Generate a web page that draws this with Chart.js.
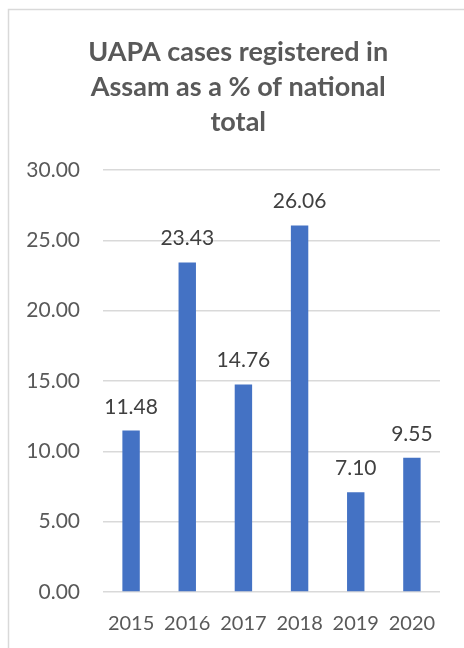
<!DOCTYPE html>
<html>
<head>
<meta charset="utf-8">
<script src="https://cdn.jsdelivr.net/npm/chart.js@4"></script>
<style>
  html, body { margin: 0; padding: 0; background: #fff; }
  #wrap { width: 464px; height: 648px; }
</style>
</head>
<body>
<div id="wrap"><canvas id="uapaChart" width="464" height="648"></canvas></div>
<script>
const years = ["2015", "2016", "2017", "2018", "2019", "2020"];
const assamShare = [11.48, 23.43, 14.76, 26.06, 7.10, 9.55];
const titleLines = ["UAPA cases registered in", "Assam as a % of national", "total"];

const FONT = "Lato, 'Open Sans', sans-serif";
const FRAME = { left: 8.5, top: 9.5, right: 468 };

// light frame round the chart (open on the right and bottom) and the title centred in it
const chartFrame = {
    id: "chartFrame",
    beforeDraw(chart) {
        const { ctx } = chart;
        ctx.save();
        ctx.fillStyle = "#fff";
        ctx.fillRect(0, 0, chart.width, chart.height);
        ctx.strokeStyle = "#d9d9d9";
        ctx.lineWidth = 1.5;
        ctx.strokeRect(FRAME.left, FRAME.top, FRAME.right - FRAME.left, chart.height + 20);

        ctx.font = "bold 27px " + FONT;
        ctx.fillStyle = "#595959";
        ctx.textAlign = "center";
        ctx.textBaseline = "middle";
        const cx = (FRAME.left + FRAME.right) / 2;
        titleLines.forEach((line, i) => ctx.fillText(line, cx, 52 + i * 35));
        ctx.restore();
    }
};

// value printed above each bar
const barValues = {
    id: "barValues",
    afterDatasetsDraw(chart) {
        const { ctx } = chart;
        const meta = chart.getDatasetMeta(0);
        ctx.save();
        ctx.font = "21px " + FONT;
        ctx.fillStyle = "#404040";
        ctx.textAlign = "center";
        ctx.textBaseline = "alphabetic";
        meta.data.forEach((bar, i) => {
            ctx.fillText(assamShare[i].toFixed(2), bar.x, bar.y - 17);
        });
        ctx.restore();
    }
};

const chart = new Chart(document.getElementById("uapaChart"), {
    type: "bar",
    data: {
        labels: years,
        datasets: [{
            data: assamShare,
            backgroundColor: "#4472c4",
            barPercentage: 0.62,
            categoryPercentage: 0.5
        }]
    },
    options: {
        responsive: false,
        animation: false,
        layout: { padding: { left: 10, right: 24, top: 170, bottom: 0 } },
        plugins: {
            legend: { display: false },
            tooltip: { enabled: false },
            title: { display: false }
        },
        scales: {
            x: {
                grid: { display: false, drawTicks: false },
                border: { display: false },
                ticks: { color: "#595959", font: { family: FONT, size: 20 }, padding: 20 },
                afterFit(scale) { scale.height = 56; }
            },
            y: {
                min: 0,
                max: 30,
                grid: { color: "#d9d9d9", lineWidth: 1.5, drawTicks: false },
                border: { display: false },
                ticks: {
                    stepSize: 5,
                    color: "#595959",
                    font: { family: FONT, size: 21 },
                    padding: 23,
                    callback: v => v.toFixed(2)
                },
                afterFit(scale) { scale.width = 93; }
            }
        }
    },
    plugins: [chartFrame, barValues]
});
</script>
</body>
</html>
